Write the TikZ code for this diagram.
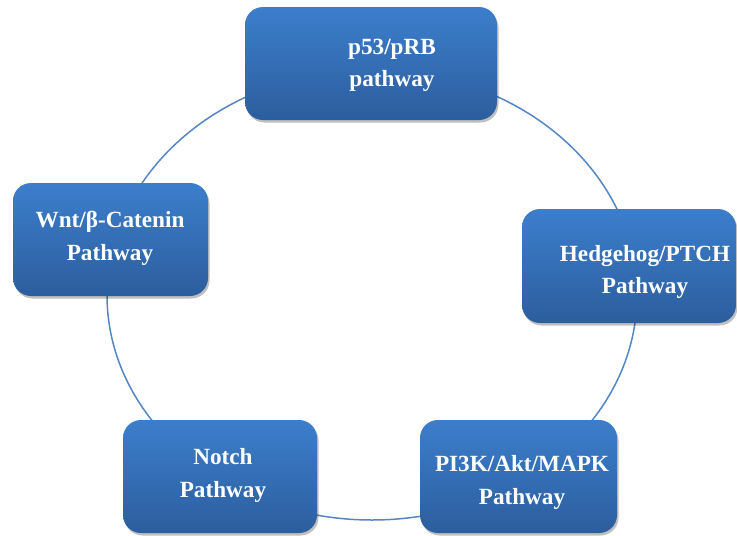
\documentclass[tikz,border=0pt]{standalone}
\usepackage{fontspec}
\setmainfont{Liberation Serif}
\usetikzlibrary{shadows}
\definecolor{boxtop}{RGB}{60,126,204}
\definecolor{boxbot}{RGB}{44,94,158}
\definecolor{ringblue}{RGB}{84,134,198}
\tikzset{
  pathbox/.style={rounded corners=18pt, inner sep=0pt, outer sep=0pt,
    top color=boxtop, bottom color=boxbot, draw=none,
    drop shadow={shadow xshift=1.5pt, shadow yshift=-2.5pt, fill=black, opacity=0.25}},
  pathtext/.style={text=white, font=\fontsize{23.2}{32.5}\selectfont\bfseries, align=center, inner sep=0pt},
  ring/.style={draw=ringblue, line width=1.5pt}
}
\begin{document}
\begin{tikzpicture}[x=1pt,y=-1pt]
\useasboundingbox (0,0) rectangle (737,536);
\coordinate (ringc) at (372,295);
\draw[ring] (ringc) ellipse [x radius=265pt, y radius=225pt];
% boxes
\node[pathbox, minimum width=252pt, minimum height=113pt] (p53) at (371,63.5) {};
\node[pathbox, minimum width=214pt, minimum height=114pt] (hh) at (629,266) {};
\node[pathbox, minimum width=195pt, minimum height=113pt] (wnt) at (110.5,239.5) {};
\node[pathbox, minimum width=194pt, minimum height=113pt] (notch) at (220,476.5) {};
\node[pathbox, minimum width=197pt, minimum height=113pt] (pi3k) at (518.5,476.5) {};
% texts
\node[pathtext] (p53t) at (392,65.5) {p53/pRB\\pathway};
\node[pathtext] (hht) at (645,272) {Hedgehog/PTCH\\Pathway};
\node[pathtext] (wntt) at (110,238.5) {Wnt/β-Catenin\\Pathway};
\node[pathtext] (notcht) at (223,475.5) {Notch\\Pathway};
\node[pathtext] (pi3kt) at (522,482.5) {PI3K/Akt/MAPK\\Pathway};
\end{tikzpicture}
\end{document}
